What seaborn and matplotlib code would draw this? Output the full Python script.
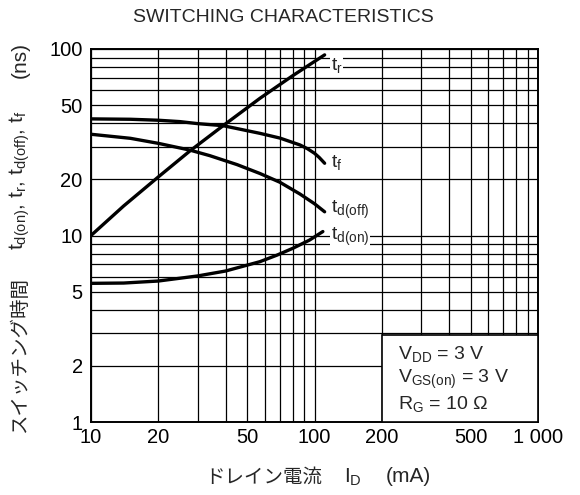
import numpy as np
import pandas as pd
import matplotlib
matplotlib.use("Agg")
import matplotlib.pyplot as plt
from matplotlib.ticker import LogLocator, NullFormatter, FixedLocator, FixedFormatter
from matplotlib.patches import Rectangle
import seaborn as sns

# Values (ID in mA, times in ns)
tr_id = [10, 14, 20, 27.7, 39, 57, 80, 111]
tr_ns = [10, 14.4, 20.6, 28.4, 38.8, 54.4, 72, 93]

tf_id = [10, 15, 20, 25, 30, 39, 57, 70, 86, 93, 100, 105, 111]
tf_ns = [42.2, 42.0, 41.5, 40.8, 39.8, 38.8, 35.3, 33.3, 30.6, 29.2, 27.6, 26.2, 24.4]

tdoff_id = [10, 15, 20, 27.7, 34, 45, 57, 70, 86, 100, 111]
tdoff_ns = [34.9, 33.2, 31.2, 28.7, 26.8, 24.0, 21.5, 19.3, 16.7, 14.8, 13.4]

tdon_id = [10, 14, 20, 30, 40, 57, 68, 80, 95, 109]
tdon_ns = [5.54, 5.56, 5.70, 6.07, 6.45, 7.24, 7.85, 8.54, 9.45, 10.5]

x_ticks = [10, 20, 50, 100, 200, 500, 1000]
x_ticklabels = ["10", "20", "50", "100", "200", "500", "1 000"]
y_ticks = [1, 2, 5, 10, 20, 50, 100]
y_ticklabels = ["1", "2", "5", "10", "20", "50", "100"]

curve_labels = [r"t$_{\rm r}$", r"t$_{\rm f}$", r"t$_{\rm d(off)}$", r"t$_{\rm d(on)}$"]
label_y = [82, 24.5, 13.7, 9.8]
cond_lines = [r"V$_{\rm DD}$ = 3 V", r"V$_{\rm GS(on)}$ = 3 V", r"R$_{\rm G}$ = 10 Ω"]

df = pd.concat([
    pd.DataFrame({"id": tr_id, "t": tr_ns, "curve": "tr"}),
    pd.DataFrame({"id": tf_id, "t": tf_ns, "curve": "tf"}),
    pd.DataFrame({"id": tdoff_id, "t": tdoff_ns, "curve": "tdoff"}),
    pd.DataFrame({"id": tdon_id, "t": tdon_ns, "curve": "tdon"}),
])

sns.set_theme(style="white")
plt.rcParams["font.family"] = ["Liberation Sans", "Noto Sans CJK JP", "DejaVu Sans"]
plt.rcParams["mathtext.fontset"] = "custom"
plt.rcParams["mathtext.rm"] = "Liberation Sans"
plt.rcParams["mathtext.it"] = "Liberation Sans:italic"
plt.rcParams["mathtext.bf"] = "Liberation Sans:bold"

fig = plt.figure(figsize=(5.8, 4.95), dpi=100)
ax = fig.add_axes([91 / 580, 1 - 422 / 495, 447 / 580, 373 / 495])

sns.lineplot(data=df, x="id", y="t", units="curve", estimator=None,
             color="black", lw=2.4, sort=False, ax=ax, zorder=4)

ax.set_xscale("log")
ax.set_yscale("log")
ax.set_xlim(10, 1000)
ax.set_ylim(1, 100)

ax.xaxis.set_major_locator(FixedLocator(x_ticks))
ax.xaxis.set_major_formatter(FixedFormatter(x_ticklabels))
ax.yaxis.set_major_locator(FixedLocator(y_ticks))
ax.yaxis.set_major_formatter(FixedFormatter(y_ticklabels))
ax.xaxis.set_minor_locator(LogLocator(base=10, subs=np.arange(1, 10)))
ax.yaxis.set_minor_locator(LogLocator(base=10, subs=np.arange(1, 10)))
ax.xaxis.set_minor_formatter(NullFormatter())
ax.yaxis.set_minor_formatter(NullFormatter())
ax.tick_params(which="both", length=0, labelsize=14.5, colors="black")
ax.tick_params(axis="x", pad=4)
ax.tick_params(axis="y", pad=6)

ax.set_axisbelow(True)
ax.grid(which="minor", color="black", lw=0.9)
ax.grid(which="major", color="black", lw=0.9)
for s in ax.spines.values():
    s.set_color("black")
    s.set_linewidth(1.4)

ax.set_xlabel("")
ax.set_ylabel("")

# curve names next to line ends
for lab, yv in zip(curve_labels, label_y):
    ax.text(118, yv, lab, fontsize=14, ha="left", va="center", zorder=5,
            bbox=dict(fc="white", ec="none", pad=0.6))

# conditions box
ax.add_patch(Rectangle((200, 1), 800, 1.93, facecolor="white",
                       edgecolor="black", lw=1.2, zorder=3))
for i, line in enumerate(cond_lines):
    ax.text(0.686, 0.183 - i * 0.068, line, transform=ax.transAxes,
            fontsize=14, ha="left", va="center", zorder=5)

fig.text(283 / 580, 1 - 17 / 495, "SWITCHING CHARACTERISTICS",
         fontsize=14, ha="center", va="center")

# x label (Japanese part as plain text, symbol part as mathtext)
fig.text(264 / 580, 1 - 477 / 495, "ドレイン電流", family=["Noto Sans CJK JP"],
         fontsize=14, ha="center", va="center")
fig.text(353 / 580, 1 - 477 / 495, r"I$_{\rm D}$",
         fontsize=15, ha="center", va="center")
fig.text(408 / 580, 1 - 477 / 495, "(mA)",
         fontsize=15, ha="center", va="center")

# y label
fig.text(20 / 580, 1 - 355 / 495, "スイッチング時間", family=["Noto Sans CJK JP"],
         fontsize=14, ha="center", va="center", rotation=90)
fig.text(20 / 580, 1 - 180 / 495,
         r"t$_{\rm d(on)}$, t$_{\rm r}$, t$_{\rm d(off)}$, t$_{\rm f}$",
         fontsize=15, ha="center", va="center", rotation=90)
fig.text(20 / 580, 1 - 60 / 495, "(ns)",
         fontsize=15, ha="center", va="center", rotation=90)

fig.savefig("out.png", dpi=100)
